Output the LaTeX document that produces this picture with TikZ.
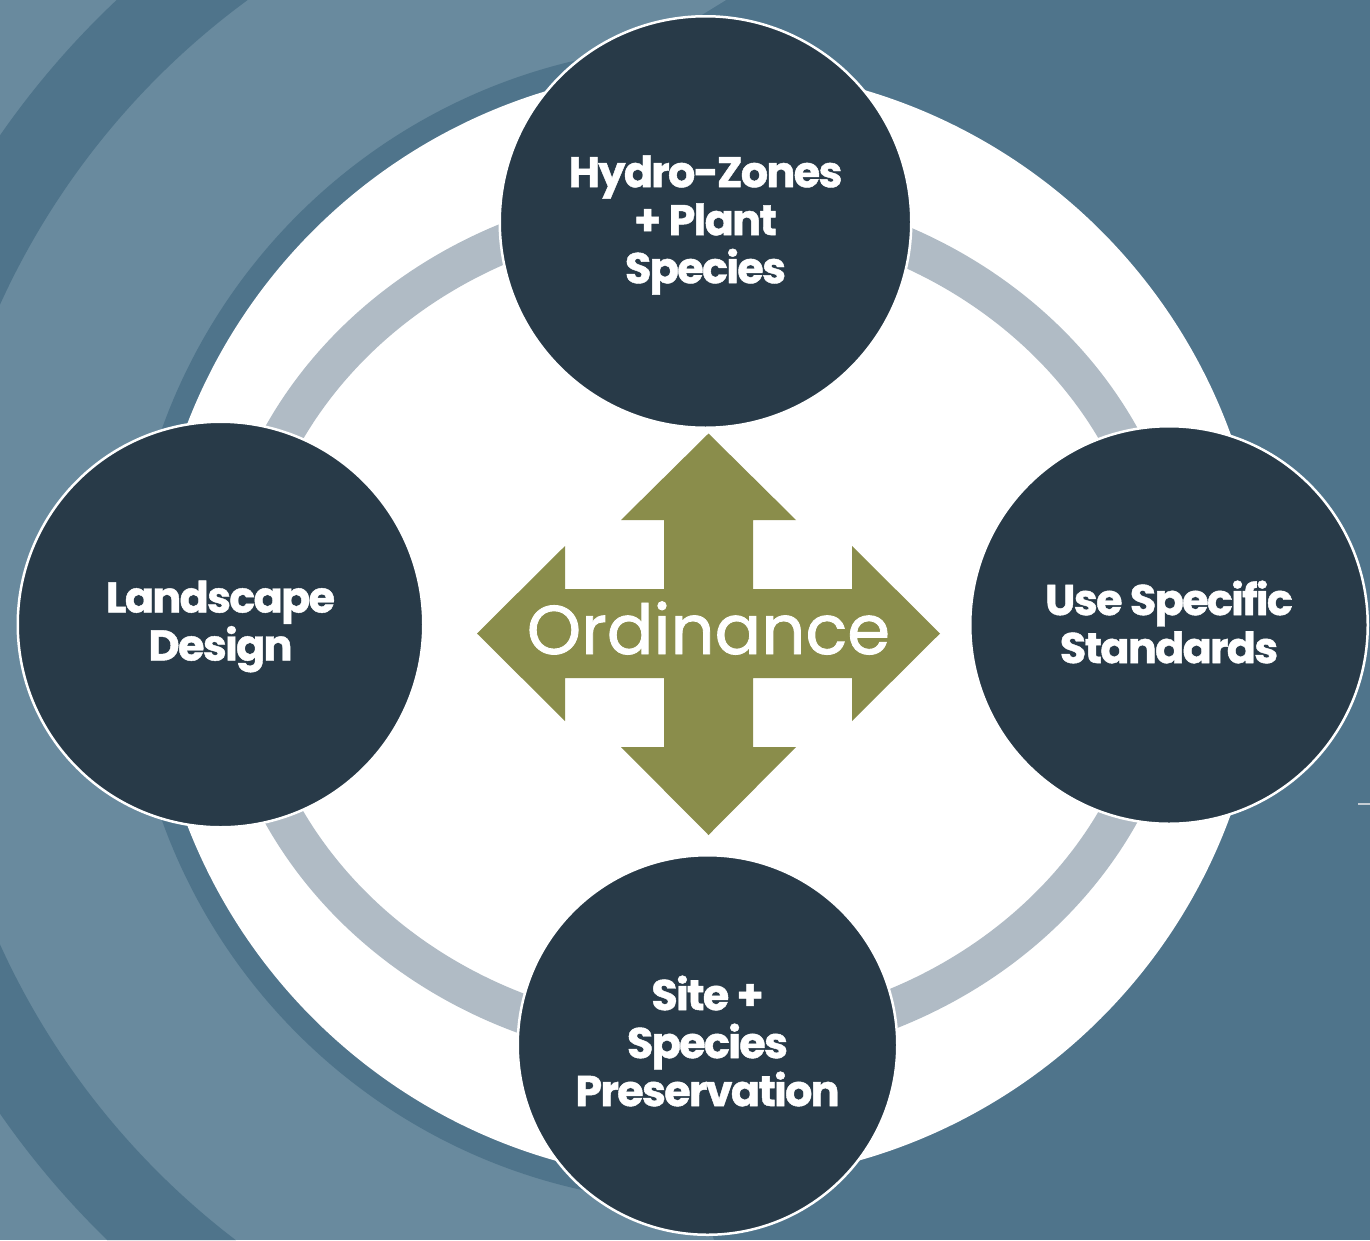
\documentclass[tikz,border=0pt]{standalone}
\usepackage{fontspec}
\setmainfont{Poppins}
\newfontfamily\labelfont[LetterSpace=-4, FakeBold=1]{Poppins Bold}
\newfontfamily\ordfont[FakeBold=1.2]{Poppins}
\definecolor{bgdark}{HTML}{4F748B}
\definecolor{bglight}{HTML}{698A9E}
\definecolor{navy}{HTML}{283A48}
\definecolor{ringgrey}{HTML}{B0BBC5}
\definecolor{olivec}{HTML}{8A8D4B}
\definecolor{tickgrey}{HTML}{C5CDD4}
\tikzset{
  topic/.style={circle, fill=navy, draw=white, line width=2.5pt, inner sep=0pt},
  topiclabel/.style={text=white, align=center, inner sep=0pt,
    font=\fontsize{43}{48}\selectfont\labelfont},
  ordlabel/.style={text=white, inner sep=0pt, font=\fontsize{69}{69}\selectfont\ordfont},
}
\begin{document}
\begin{tikzpicture}[x=1pt,y=-1pt]
\useasboundingbox (0,0) rectangle (1370,1240);
% background
\fill[bgdark] (0,0) rectangle (1370,1240);
\begin{scope}
  \clip (0,0) -- (726,0) -- (700,16) -- (700,1200) -- (714,1240) -- (0,1240) -- cycle;
  \fill[bglight] (0,0) rectangle (1370,1240);
  \fill[bgdark, even odd rule] (705,624.5) circle[radius=858] (705,624.5) circle[radius=774];
\end{scope}
\fill[bgdark] (707,624.5) circle[radius=579];
\fill[white] (707,624.5) circle[radius=557];
% grey ring
\draw[ringgrey, line width=39pt] (701,625) ellipse[x radius=468.5, y radius=420.5];
% circles
\node[topic, minimum size=411.5pt] (hydro) at (705.5,222) {};
\node[topic, minimum size=405.5pt] (land) at (220.5,624.5) {};
\node[topic, minimum size=397.5pt] (use) at (1169,625) {};
\node[topic, minimum size=379.5pt] (site) at (707.5,1045) {};
\node[topiclabel] (hydroT) at ([yshift=-3pt]hydro.center) {Hydro-Zones\\+ Plant\\Species};
\node[topiclabel] (landT) at ([yshift=-2pt]land.center) {Landscape\\Design};
\node[topiclabel] (useT) at ([yshift=3pt]use.center) {Use Specific\\Standards};
\node[topiclabel] (siteT) at ([yshift=4pt]site.center) {Site +\\Species\\Preservation};
% arrow
\fill[olivec] (708.5,433.5) -- (796,520) -- (753,520) -- (753,589) -- (852,589) -- (852,546)
  -- (940,633.5) -- (852,721) -- (852,678) -- (753,678) -- (753,747) -- (796,747)
  -- (708.5,835) -- (621,747) -- (664,747) -- (664,678) -- (565,678) -- (565,721)
  -- (477,633.5) -- (565,546) -- (565,589) -- (664,589) -- (664,520) -- (621,520) -- cycle;
\node[ordlabel, anchor=base] (ord) at (708.5,654) {Ordinance};
% small tick at right edge
\draw[tickgrey, line width=2pt] (1358,804) -- (1370,804);
\end{tikzpicture}
\end{document}
